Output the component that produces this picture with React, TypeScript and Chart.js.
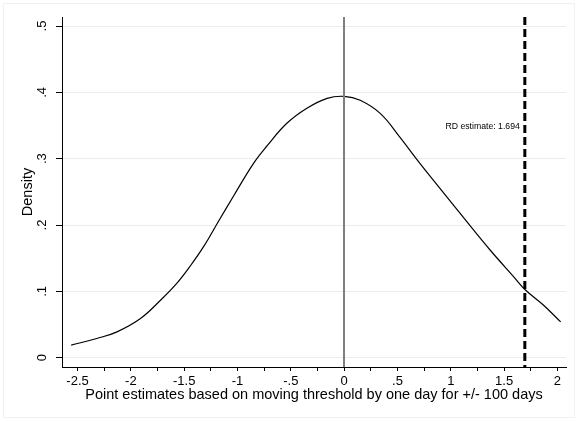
import React, { useEffect, useRef } from 'react';
import { Chart, registerables } from 'chart.js';

Chart.register(...registerables);

// Kernel density curve
const densityX = [
  -2.56, -2.32, -2.13, -1.91, -1.72, -1.57, -1.44, -1.32, -1.17, -1.04,
  -0.85, -0.72, -0.54, -0.35, -0.16, 0.0, 0.15, 0.34, 0.52, 0.71,
  0.9, 1.15, 1.37, 1.59, 1.7, 1.87, 2.03,
];
const densityY = [
  0.019, 0.029, 0.039, 0.059, 0.087, 0.112, 0.139, 0.167, 0.208, 0.243,
  0.293, 0.32, 0.353, 0.376, 0.391, 0.394, 0.388, 0.368, 0.333, 0.293,
  0.255, 0.205, 0.162, 0.122, 0.102, 0.079, 0.054,
];

const xTickValues = [
  -2.5, -2.25, -2, -1.75, -1.5, -1.25, -1, -0.75, -0.5, -0.25, 0,
  0.25, 0.5, 0.75, 1, 1.25, 1.5, 1.75, 2,
];
const xTickLabels = [
  '-2.5', '', '-2', '', '-1.5', '', '-1', '', '-.5', '', '0',
  '', '.5', '', '1', '', '1.5', '', '2',
];
const yTickValues = [0, 0.1, 0.2, 0.3, 0.4, 0.5];
const yTickLabels = ['0', '.1', '.2', '.3', '.4', '.5'];

const xMin = -2.646;
const xMax = 2.08;
const yMin = -0.014;
const yMax = 0.5136;

const zeroLineX = 0;
const rdEstimate = 1.694;
const rdLabel = 'RD estimate: 1.694';
const rdLabelY = 0.349;

const xAxisTitle = 'Point estimates based on moving threshold by one day for +/- 100 days';
const yAxisTitle = 'Density';

const FONT = "'Liberation Sans', Arial, Helvetica, sans-serif";

const overlayPlugin = {
  id: 'overlay',
  beforeDraw(chart: any) {
    const { ctx, width, height } = chart;
    ctx.save();
    ctx.fillStyle = '#ffffff';
    ctx.fillRect(0, 0, width, height);
    ctx.strokeStyle = '#edf2f4';
    ctx.lineWidth = 1;
    ctx.strokeRect(3.5, 3.5, width - 7, height - 7);
    ctx.restore();
  },
  afterDatasetsDraw(chart: any) {
    const { ctx, chartArea, scales } = chart;
    const x = scales.x;
    const y = scales.y;
    ctx.save();
    // zero reference line
    const zx = Math.round(x.getPixelForValue(zeroLineX));
    ctx.strokeStyle = '#7f7f7f';
    ctx.lineWidth = 2;
    ctx.beginPath();
    ctx.moveTo(zx, chartArea.top);
    ctx.lineTo(zx, chartArea.bottom);
    ctx.stroke();
    // RD estimate dashed line
    const rx = x.getPixelForValue(rdEstimate);
    ctx.strokeStyle = '#000000';
    ctx.lineWidth = 3;
    ctx.setLineDash([8, 4]);
    ctx.beginPath();
    ctx.moveTo(rx, chartArea.top);
    ctx.lineTo(rx, chartArea.bottom);
    ctx.stroke();
    ctx.setLineDash([]);
    // label
    ctx.fillStyle = '#000000';
    ctx.font = `8.7px ${FONT}`;
    ctx.textAlign = 'right';
    ctx.textBaseline = 'middle';
    ctx.fillText(rdLabel, rx - 5, y.getPixelForValue(rdLabelY));
    ctx.restore();
  },
};

export default function App() {
  const ref = useRef<HTMLCanvasElement | null>(null);

  useEffect(() => {
    if (!ref.current) return;
    const points = densityX.map((v, i) => ({ x: v, y: densityY[i] }));
    const chart = new Chart(ref.current, {
      type: 'line',
      data: {
        datasets: [
          {
            data: points,
            borderColor: '#000000',
            borderWidth: 1.2,
            pointRadius: 0,
            fill: false,
            tension: 0.4,
          },
        ],
      },
      options: {
        animation: false,
        responsive: false,
        maintainAspectRatio: false,
        devicePixelRatio: 1,
        layout: { padding: { left: 0, right: 12, top: 17, bottom: 0 } },
        plugins: {
          legend: { display: false },
          tooltip: { enabled: false },
        },
        scales: {
          x: {
            type: 'linear',
            min: xMin,
            max: xMax,
            afterBuildTicks: (scale: any) => {
              scale.ticks = xTickValues.map((v) => ({ value: v }));
            },
            afterFit: (scale: any) => {
              scale.height = 54;
            },
            grid: {
              drawOnChartArea: false,
              drawTicks: true,
              tickLength: 4,
              color: '#000000',
              tickColor: '#000000',
            },
            border: { display: true, color: '#000000', width: 1 },
            ticks: {
              autoSkip: false,
              maxRotation: 0,
              minRotation: 0,
              padding: 3,
              color: '#000000',
              font: { family: FONT, size: 13 },
              callback: (_v: any, i: number) => xTickLabels[i],
            },
            title: {
              display: true,
              text: xAxisTitle,
              color: '#000000',
              font: { family: FONT, size: 14.5 },
              padding: { top: 0, bottom: 17.3 },
            },
          },
          y: {
            type: 'linear',
            min: yMin,
            max: yMax,
            afterBuildTicks: (scale: any) => {
              scale.ticks = yTickValues.map((v) => ({ value: v }));
            },
            afterFit: (scale: any) => {
              scale.width = 62;
            },
            grid: {
              drawOnChartArea: true,
              drawTicks: true,
              tickLength: 6,
              color: '#e6eef0',
              tickColor: '#000000',
            },
            border: { display: true, color: '#000000', width: 1 },
            ticks: {
              autoSkip: false,
              minRotation: 90,
              maxRotation: 90,
              crossAlign: 'center',
              padding: 8.5,
              color: '#000000',
              font: { family: FONT, size: 13 },
              callback: (_v: any, i: number) => yTickLabels[i],
            },
            title: {
              display: true,
              text: yAxisTitle,
              color: '#000000',
              font: { family: FONT, size: 14.5 },
              padding: { top: 18.8, bottom: 0 },
            },
          },
        },
      },
      plugins: [overlayPlugin],
    } as any);
    return () => chart.destroy();
  }, []);

  return (
    <div style={{ position: 'absolute', left: 0, top: 0, width: 578, height: 421 }}>
      <canvas ref={ref} width={578} height={421} style={{ display: 'block', width: 578, height: 421 }} />
    </div>
  );
}
